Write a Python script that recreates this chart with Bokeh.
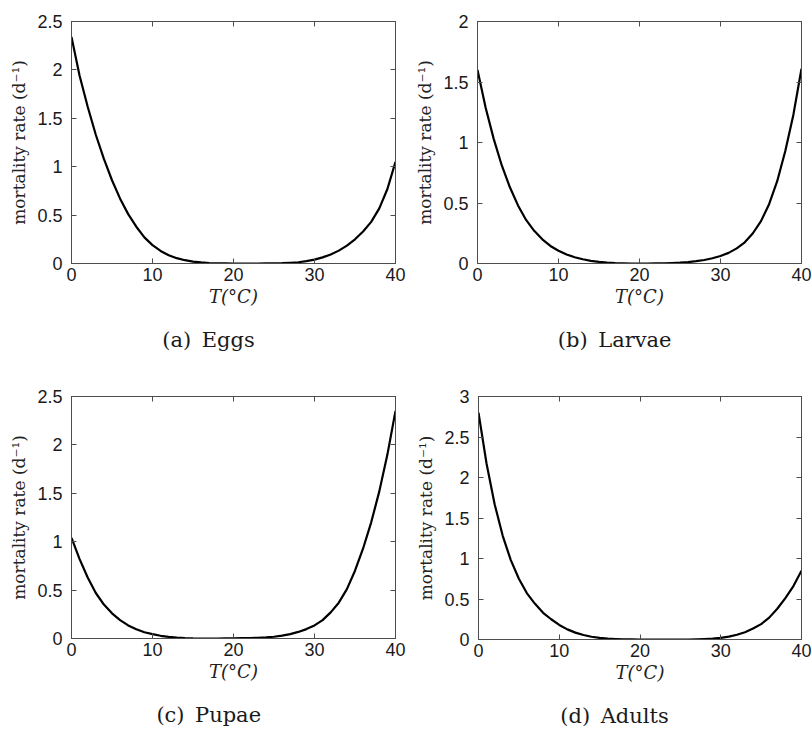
from bokeh.plotting import figure
from bokeh.layouts import column, row
from bokeh.models import LinearAxis, FixedTicker, Title, Range1d
from bokeh.embed import file_html
from bokeh.resources import INLINE

# ---------------- data ----------------
T = list(range(0, 41))

eggs = [2.34, 1.94, 1.62, 1.33, 1.08, 0.86, 0.67, 0.51, 0.38, 0.27,
        0.19, 0.13, 0.085, 0.055, 0.034, 0.02, 0.011, 0.005, 0.002, 0.001,
        0.0, 0.0, 0.0, 0.0, 0.001, 0.002, 0.004, 0.008, 0.013, 0.024,
        0.04, 0.063, 0.093, 0.133, 0.185, 0.25, 0.33, 0.43, 0.57, 0.77,
        1.05]

larvae = [1.60, 1.29, 1.03, 0.81, 0.63, 0.48, 0.36, 0.27, 0.20, 0.145,
          0.105, 0.075, 0.052, 0.035, 0.022, 0.013, 0.007, 0.003, 0.001, 0.0,
          0.0, 0.0, 0.001, 0.002, 0.004, 0.007, 0.012, 0.019, 0.029, 0.043,
          0.062, 0.088, 0.125, 0.175, 0.25, 0.35, 0.49, 0.68, 0.93, 1.23,
          1.61]

pupae = [1.04, 0.82, 0.63, 0.47, 0.35, 0.26, 0.19, 0.135, 0.095, 0.065,
         0.045, 0.028, 0.017, 0.009, 0.004, 0.001, 0.0, 0.0, 0.0, 0.001,
         0.002, 0.003, 0.005, 0.008, 0.012, 0.018, 0.03, 0.045, 0.068, 0.097,
         0.135, 0.19, 0.27, 0.37, 0.51, 0.70, 0.93, 1.20, 1.52, 1.90,
         2.35]

adults = [2.80, 2.17, 1.67, 1.28, 0.98, 0.75, 0.57, 0.44, 0.33, 0.25,
          0.18, 0.125, 0.085, 0.055, 0.034, 0.02, 0.011, 0.006, 0.003, 0.001,
          0.0, 0.0, 0.0, 0.0, 0.0, 0.0, 0.0, 0.002, 0.005, 0.01,
          0.02, 0.035, 0.058, 0.09, 0.135, 0.19, 0.27, 0.38, 0.51, 0.66,
          0.85]

x_ticks = [0, 10, 20, 30, 40]
x_tick_labels = ["0", "10", "20", "30", "40"]

y_ticks_25 = [0, 0.5, 1, 1.5, 2, 2.5]
y_labels_25 = ["0", "0.5", "1", "1.5", "2", "2.5"]
y_ticks_2 = [0, 0.5, 1, 1.5, 2]
y_labels_2 = ["0", "0.5", "1", "1.5", "2"]
y_ticks_3 = [0, 0.5, 1, 1.5, 2, 2.5, 3]
y_labels_3 = ["0", "0.5", "1", "1.5", "2", "2.5", "3"]

captions = ["(a)\u2002Eggs", "(b)\u2002Larvae", "(c)\u2002Pupae", "(d)\u2002Adults"]
x_label = "T(°C)"
y_label = "mortality rate (d\u207b\u00b9)"

# ---------------- styling ----------------
AX = "#4d4d4d"
TXT = "#1a1a1a"
FIG_W = 406
CAP_CENTER = 208     # caption centre, px from the left of each sub-figure
CAP_SIZE = 21

# approximate DejaVu Serif advance widths (em) used to centre captions
_W = {"(": .39, ")": .39, "a": .596, "b": .64, "c": .56, "d": .64, "E": .73,
      "g": .64, "s": .513, "L": .648, "r": .478, "v": .565, "e": .592,
      "P": .652, "u": .644, "p": .64, "A": .722, "l": .32, "t": .402,
      "\u2002": .5}


def text_width(s, size):
    return sum(_W.get(ch, .6) for ch in s) * size


def mirror_axis(p, loc, ticks):
    ax = LinearAxis(ticker=FixedTicker(ticks=ticks),
                    major_label_overrides={t: "" for t in ticks},
                    major_label_text_font_size="0px",
                    major_label_standoff=0,
                    major_tick_in=5, major_tick_out=0,
                    minor_tick_line_color=None,
                    axis_line_color=AX, major_tick_line_color=AX)
    p.add_layout(ax, loc)


def panel(y, ymax, yticks, ylabels, caption, left, top, fh, bottom, fw=324):
    p = figure(frame_width=fw, frame_height=fh,
               x_range=Range1d(0, 40), y_range=Range1d(0, ymax),
               output_backend="svg", toolbar_location=None,
               min_border_left=left, min_border_right=FIG_W - left - fw,
               min_border_top=top, min_border_bottom=bottom,
               background_fill_color="white", border_fill_color="white")
    p.line(T, y, line_width=2.2, line_color="black", line_join="round")
    p.xgrid.visible = False
    p.ygrid.visible = False
    p.outline_line_color = AX
    p.outline_line_width = 1

    for ax, ticks, labels in ((p.xaxis[0], x_ticks, x_tick_labels),
                              (p.yaxis[0], yticks, ylabels)):
        ax.ticker = FixedTicker(ticks=ticks)
        ax.major_label_overrides = dict(zip(ticks, labels))
        ax.major_tick_in = 5
        ax.major_tick_out = 0
        ax.minor_tick_line_color = None
        ax.axis_line_color = AX
        ax.major_tick_line_color = AX
        ax.major_label_text_font = "Liberation Sans"
        ax.major_label_text_font_size = "18px"
        ax.major_label_text_color = TXT
        ax.axis_label_text_font = "DejaVu Serif"
        ax.axis_label_text_color = "#222222"

    p.xaxis.major_label_standoff = 4
    p.yaxis.major_label_standoff = 9
    p.xaxis.axis_label = x_label
    p.xaxis.axis_label_text_font_style = "italic"
    p.xaxis.axis_label_text_font_size = "18px"
    p.xaxis.axis_label_standoff = 2
    p.yaxis.axis_label = y_label
    p.yaxis.axis_label_text_font_style = "normal"
    p.yaxis.axis_label_text_font_size = "17px"
    p.yaxis.axis_label_standoff = 5

    mirror_axis(p, "above", x_ticks)
    mirror_axis(p, "right", yticks)

    off = CAP_CENTER - left - text_width(caption, CAP_SIZE) / 2
    cap = Title(text="\n" + caption, align="left", offset=off,
                vertical_align="top", standoff=0,
                text_font="DejaVu Serif", text_font_size=f"{CAP_SIZE}px",
                text_font_style="normal", text_line_height=0.75,
                text_color=TXT)
    p.add_layout(cap, "below")
    return p


pa = panel(eggs, 2.5, y_ticks_25, y_labels_25, captions[0], 71, 21, 242, 102)
pb = panel(larvae, 2, y_ticks_2, y_labels_2, captions[1], 71, 21, 242, 102)
pc = panel(pupae, 2.5, y_ticks_25, y_labels_25, captions[2], 71, 31, 242, 91)
pd = panel(adults, 3, y_ticks_3, y_labels_3, captions[3], 72, 28, 243, 93, fw=323)

layout = column(row(pa, pb), row(pc, pd))

open("out.html", "w").write(file_html(layout, INLINE))
